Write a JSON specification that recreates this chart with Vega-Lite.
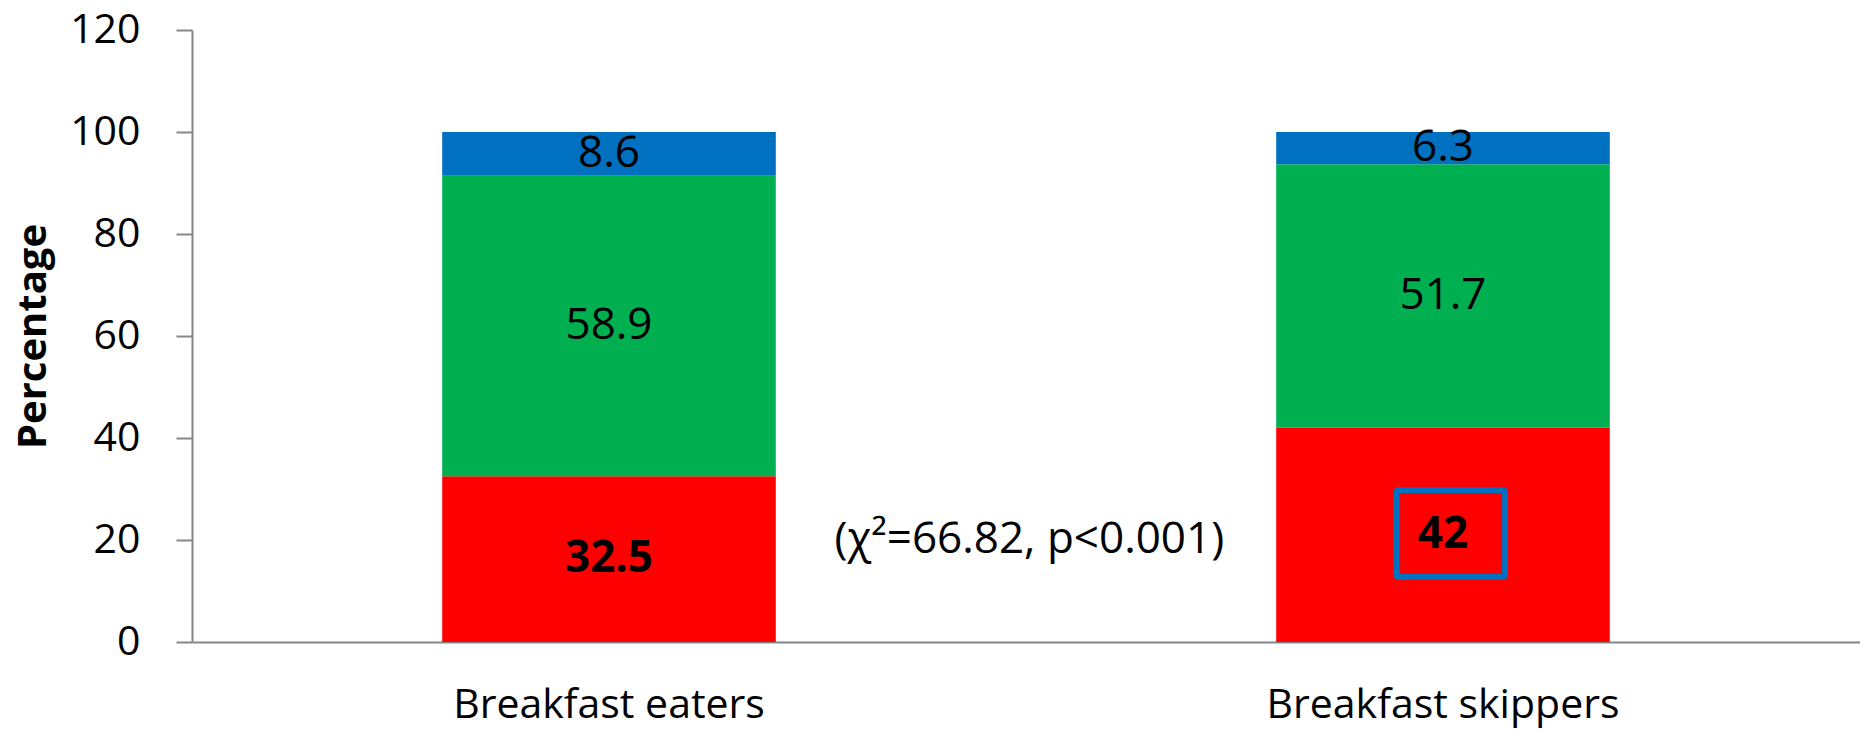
{
  "$schema": "https://vega.github.io/schema/vega-lite/v6.json",
  "autosize": {"type": "none"},
  "padding": {"left": 192, "top": 30, "right": 0, "bottom": 89},
  "width": 1668,
  "height": 612,
  "background": "white",
  "config": {
    "view": {"stroke": null},
    "font": "Open Sans",
    "axis": {
      "domainColor": "#868686",
      "domainWidth": 2,
      "tickColor": "#868686",
      "tickWidth": 2,
      "grid": false,
      "labelColor": "#000000",
      "titleColor": "#000000",
      "labelFont": "Open Sans",
      "titleFont": "Open Sans"
    }
  },
  "datasets": {
    "shares": [
      {"group": "Breakfast eaters", "tier": 1, "value": 32.5},
      {"group": "Breakfast eaters", "tier": 2, "value": 58.9},
      {"group": "Breakfast eaters", "tier": 3, "value": 8.6},
      {"group": "Breakfast skippers", "tier": 1, "value": 42},
      {"group": "Breakfast skippers", "tier": 2, "value": 51.7},
      {"group": "Breakfast skippers", "tier": 3, "value": 6.3}
    ]
  },
  "data": {"name": "shares"},
  "transform": [
    {"stack": "value", "groupby": ["group"], "sort": [{"field": "tier", "order": "ascending"}], "as": ["v0", "v1"]},
    {"calculate": "(datum.v0 + datum.v1) / 2", "as": "mid"}
  ],
  "encoding": {
    "x": {
      "field": "group",
      "type": "nominal",
      "sort": ["Breakfast eaters", "Breakfast skippers"],
      "scale": {"paddingInner": 0.6, "paddingOuter": 0.3},
      "axis": {
        "title": null,
        "labelAngle": 0,
        "labelFontSize": 41,
        "labelLimit": 0,
        "ticks": false,
        "labelPadding": 43
      }
    }
  },
  "layer": [
    {
      "mark": {"type": "bar"},
      "encoding": {
        "y": {
          "field": "v0",
          "type": "quantitative",
          "scale": {"domain": [0, 120], "nice": false},
          "axis": {
            "title": "Percentage",
            "titleFontSize": 40,
            "titleFontWeight": "bold",
            "titlePadding": 16,
            "values": [0, 20, 40, 60, 80, 100, 120],
            "labelFontSize": 41,
            "tickSize": 16,
            "labelPadding": 36
          }
        },
        "y2": {"field": "v1"},
        "color": {
          "field": "tier",
          "type": "nominal",
          "scale": {"domain": [1, 2, 3], "range": ["#FF0000", "#00B050", "#0070C0"]},
          "legend": null
        }
      }
    },
    {
      "transform": [{"filter": "datum.tier != 1"}],
      "mark": {"type": "text", "fontSize": 44, "color": "#000000", "baseline": "middle", "align": "center"},
      "encoding": {
        "y": {"field": "mid", "type": "quantitative"},
        "text": {"field": "value", "type": "quantitative", "format": ".1~f"}
      }
    },
    {
      "transform": [{"filter": "datum.tier == 1"}],
      "mark": {"type": "text", "fontSize": 44, "fontWeight": "bold", "color": "#000000", "baseline": "middle", "align": "center"},
      "encoding": {
        "y": {"field": "mid", "type": "quantitative"},
        "text": {"field": "value", "type": "quantitative", "format": ".1~f"}
      }
    },
    {
      "data": {"values": [{"group": "Breakfast skippers", "low": 12.75, "high": 29.8}]},
      "transform": [],
      "mark": {"type": "rect", "fill": null, "stroke": "#0070C0", "strokeWidth": 6, "cornerRadius": 2},
      "encoding": {
        "x": {"field": "group", "type": "nominal", "bandPosition": 0.36},
        "x2": {"field": "group", "bandPosition": 0.686},
        "y": {"field": "low", "type": "quantitative"},
        "y2": {"field": "high"}
      }
    },
    {
      "data": {"values": [{"group": "Breakfast eaters", "note": "(χ²=66.82, p<0.001)", "at": 20}]},
      "transform": [],
      "mark": {"type": "text", "fontSize": 44, "color": "#000000", "baseline": "middle", "align": "center"},
      "encoding": {
        "x": {"field": "group", "type": "nominal", "bandPosition": 1.76},
        "y": {"field": "at", "type": "quantitative"},
        "text": {"field": "note"}
      }
    }
  ]
}
